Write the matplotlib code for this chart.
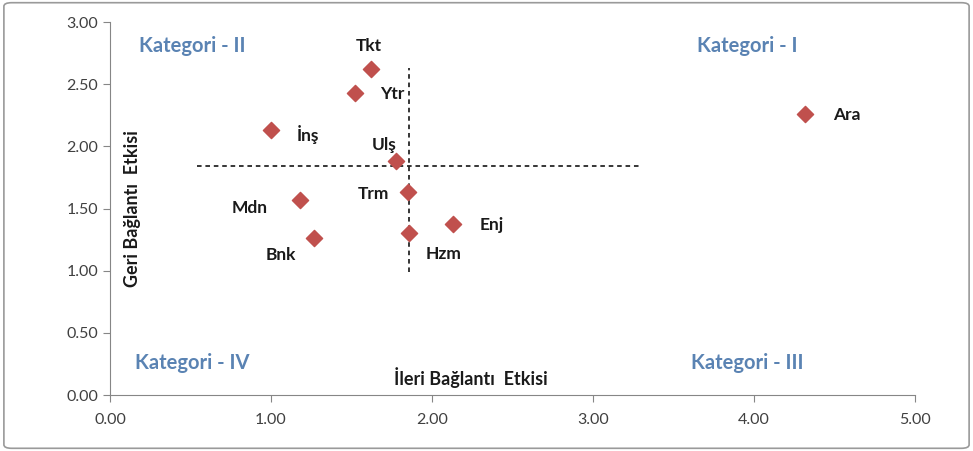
import matplotlib.pyplot as plt
from matplotlib.patches import FancyBboxPatch

plt.rcParams['font.family'] = ['Lato', 'DejaVu Sans']

# sectors and their (forward, backward) linkage effects
sectors = ["Tkt", "Ytr", "İnş", "Ulş", "Trm", "Mdn", "Enj", "Hzm", "Bnk", "Ara"]
ileri = [1.62, 1.52, 1.00, 1.78, 1.85, 1.18, 2.13, 1.86, 1.27, 4.32]
geri = [2.62, 2.43, 2.13, 1.88, 1.63, 1.57, 1.38, 1.30, 1.26, 2.26]

x_ticks = [0, 1, 2, 3, 4, 5]
y_ticks = [0, 0.5, 1.0, 1.5, 2.0, 2.5, 3.0]

# label offsets in points (layout only)
label_offsets = {
    "Tkt": (-1, 17), "Ytr": (27, -1), "İnş": (27, -3), "Ulş": (-9, 12),
    "Trm": (-25, -1), "Mdn": (-36, -6), "Enj": (28, -1), "Hzm": (25, -15),
    "Bnk": (-24, -12), "Ara": (30, -1),
}

fig = plt.figure(figsize=(9.73, 4.51), dpi=100)
ax = fig.add_axes([0.113, 0.124, 0.827, 0.827])

ax.scatter(ileri, geri, marker="D", s=68, color="#C0504D", zorder=3)
for name, xv, yv in zip(sectors, ileri, geri):
    dx, dy = label_offsets[name]
    ax.annotate(name, (xv, yv), xytext=(dx, dy), textcoords="offset points",
                ha="center", va="center", fontsize=12.5, fontweight="bold",
                color="#1a1a1a")

# quadrant dividers
ax.plot([1.86, 1.86], [0.99, 2.63], color="black", lw=1.1, ls=(0, (3, 2.5)))
ax.plot([0.54, 3.29], [1.84, 1.84], color="black", lw=1.1, ls=(0, (3, 2.5)))

cat_color = "#5A83B3"
ax.text(0.51, 2.81, "Kategori - II", ha="center", va="center", fontsize=14.5,
        fontweight="bold", color=cat_color)
ax.text(3.96, 2.81, "Kategori - I", ha="center", va="center", fontsize=14.5,
        fontweight="bold", color=cat_color)
ax.text(0.51, 0.26, "Kategori - IV", ha="center", va="center", fontsize=14.5,
        fontweight="bold", color=cat_color)
ax.text(3.96, 0.26, "Kategori - III", ha="center", va="center", fontsize=14.5,
        fontweight="bold", color=cat_color)

ax.text(2.24, 0.14, "İleri Bağlantı  Etkisi", ha="center", va="center",
        fontsize=13, fontweight="bold", color="#1a1a1a")
ax.text(0.14, 1.5, "Geri Bağlantı  Etkisi", ha="center", va="center",
        rotation=90, fontsize=13, fontweight="bold", color="#1a1a1a")

ax.set_xlim(0, 5)
ax.set_ylim(0, 3)
ax.set_xticks(x_ticks)
ax.set_yticks(y_ticks)
ax.set_xticklabels([f"{v:.2f}" for v in x_ticks])
ax.set_yticklabels([f"{v:.2f}" for v in y_ticks])
ax.tick_params(axis="both", colors="#868686", labelcolor="#404040",
               labelsize=11.5, length=5, direction="out")
ax.tick_params(axis="x", pad=8)
for side in ["top", "right"]:
    ax.spines[side].set_visible(False)
for side in ["left", "bottom"]:
    ax.spines[side].set_color("#868686")

border = FancyBboxPatch((0.004, 0.006), 0.992, 0.988, boxstyle="round,pad=0,rounding_size=0.008",
                        transform=fig.transFigure, facecolor="none",
                        edgecolor="#9a9a9a", lw=1.2)
fig.patches.append(border)

fig.savefig("out.png", dpi=100)
